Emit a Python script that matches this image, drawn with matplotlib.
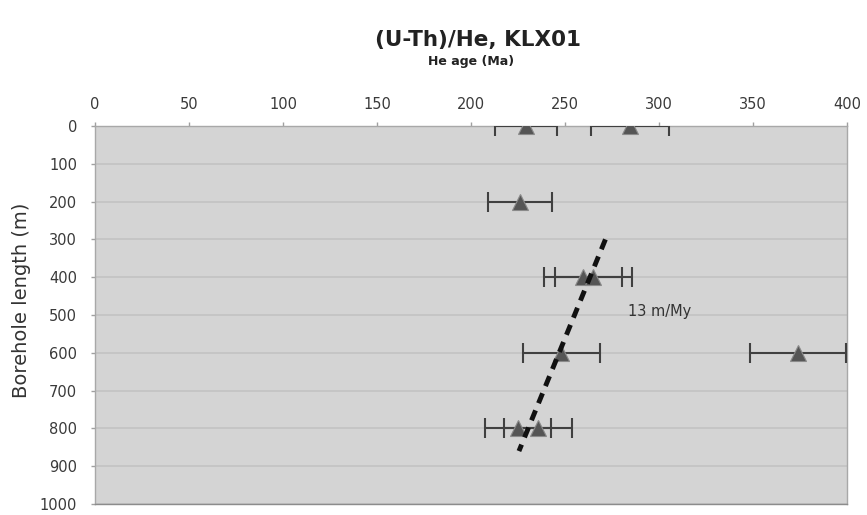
import matplotlib
matplotlib.use("Agg")
import matplotlib.pyplot as plt

# Data
ages = [229.5, 284.5, 226, 259.5, 265, 248, 374, 225, 235.7]
depths = [0, 0, 200, 400, 400, 600, 600, 800, 800]
age_err = [16.5, 20.8, 17, 20.7, 20.5, 20.6, 25.7, 17.3, 18.1]

trend_ages = [271.5, 225.5]
trend_depths = [300, 860]
trend_label = "13 m/My"

x_ticks = list(range(0, 401, 50))
y_ticks = list(range(0, 1001, 100))

fig = plt.figure(figsize=(8.67, 5.15), dpi=100)
ax = fig.add_axes([95/867, 1-504/515, (847-95)/867, (504-126)/515])
ax.set_facecolor("#d4d4d4")

ax.set_xlim(0, 400)
ax.set_ylim(1000, 0)
ax.set_xticks(x_ticks)
ax.set_yticks(y_ticks)
ax.xaxis.tick_top()
ax.xaxis.set_label_position("top")
ax.tick_params(axis="both", labelsize=10.5, colors="#a0a0a0", labelcolor="#3a3a3a",
               length=3, width=1)
ax.tick_params(axis="x", pad=7)
ax.tick_params(axis="y", pad=10)
for s in ax.spines.values():
    s.set_color("#a8a8a8")
    s.set_linewidth(1)
ax.spines["bottom"].set_color("#8c8c8c")

ax.yaxis.grid(True, color="#c2c2c2", linewidth=1.2)
ax.set_axisbelow(True)

ax.errorbar(ages, depths, xerr=age_err, fmt="none", ecolor="#404040",
            elinewidth=1.5, capsize=7.5, capthick=1.5, zorder=3)
ax.plot(ages, depths, linestyle="none", marker="^", markersize=12,
        markerfacecolor="#555555", markeredgecolor="#8a8a8a",
        markeredgewidth=0.8, zorder=4)

ax.plot(trend_ages, trend_depths, color="#111111", linewidth=3.5,
        linestyle=(0, (2.2, 1.6)), zorder=5)
ax.text(283.5, 492, trend_label, fontsize=10.5, color="#333333",
        ha="left", va="center", zorder=6)

fig.text(478/867, 1-40/515, "(U-Th)/He, KLX01", ha="center", va="center",
         fontsize=15.5, fontweight="bold", color="#222222")
fig.text(471/867, 1-62/515, "He age (Ma)", ha="center", va="center",
         fontsize=9, fontweight="bold", color="#222222")
fig.text(22/867, 1-300/515, "Borehole length (m)", ha="center",
         va="center", rotation=90, fontsize=14, color="#333333")

fig.savefig("out.png", dpi=100, facecolor="white")
